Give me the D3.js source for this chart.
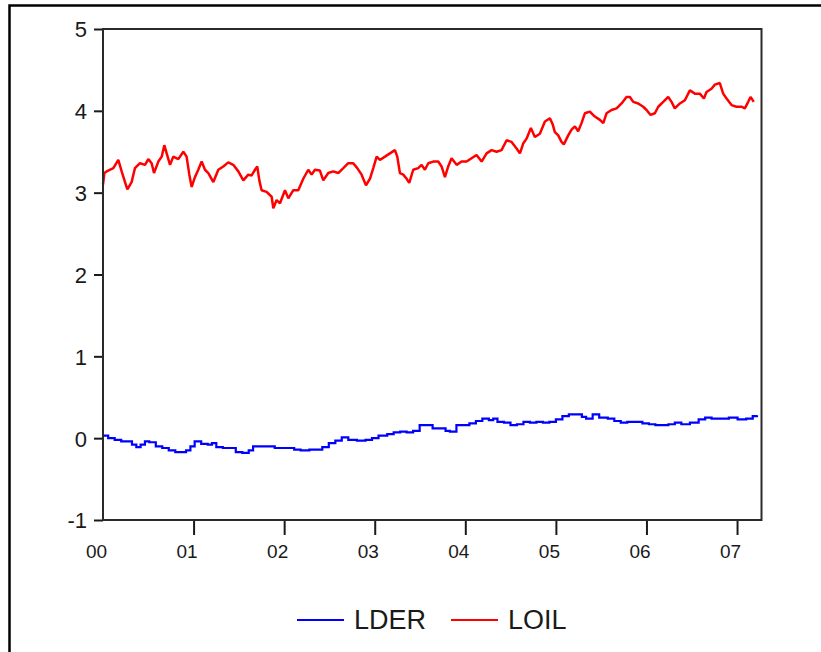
<!DOCTYPE html>
<html>
<head>
<meta charset="utf-8">
<script src="https://cdn.jsdelivr.net/npm/d3@7"></script>
<style>
  body { margin: 0; background: #fff; }
  svg text { font-family: "Liberation Sans", Arial, sans-serif; fill: #1a1a1a; }
</style>
</head>
<body>
<svg width="821" height="652"></svg>
<script>
// time in years since start of 2000
var loilYears = [0.000,0.015,0.040,0.114,0.169,0.206,0.243,0.269,0.316,0.353,0.408,0.464,0.500,0.537,0.563,0.611,0.648,0.677,0.703,0.740,0.776,0.831,0.887,0.923,0.953,0.979,
  1.015,1.052,1.089,1.126,1.163,1.218,1.273,1.328,1.383,1.438,1.494,1.549,1.604,1.641,1.678,1.703,1.726,1.751,1.806,1.862,1.880,1.917,1.954,
  2.009,2.046,2.101,2.156,2.211,2.266,2.303,2.340,2.395,2.432,2.487,2.542,2.597,2.653,2.708,2.763,2.807,2.855,2.903,2.947,2.984,
  3.021,3.057,3.113,3.168,3.223,3.249,3.278,3.315,3.352,3.381,3.425,3.480,3.517,3.554,3.591,3.646,3.701,3.738,3.775,3.811,3.848,3.904,3.959,
  4.014,4.069,4.124,4.180,4.235,4.290,4.345,4.400,4.456,4.511,4.566,4.603,4.639,4.676,4.724,4.768,4.823,4.879,4.934,4.963,4.989,
  5.026,5.062,5.088,5.136,5.173,5.210,5.246,5.283,5.320,5.375,5.430,5.486,5.523,5.559,5.614,5.670,5.725,5.780,5.817,5.854,5.909,5.964,
  6.001,6.045,6.093,6.130,6.185,6.240,6.277,6.313,6.369,6.424,6.479,6.534,6.589,6.634,6.663,6.718,6.755,6.810,6.847,6.884,6.939,6.994,
  7.049,7.086,7.123,7.149,7.185];
var loilValues = [3.10,3.24,3.26,3.30,3.40,3.26,3.13,3.04,3.13,3.30,3.36,3.34,3.41,3.36,3.24,3.38,3.44,3.58,3.48,3.34,3.44,3.41,3.50,3.44,3.22,3.07,
  3.19,3.28,3.38,3.28,3.24,3.13,3.28,3.32,3.37,3.34,3.26,3.15,3.22,3.21,3.28,3.32,3.15,3.03,3.01,2.95,2.81,2.91,2.87,
  3.03,2.93,3.03,3.03,3.17,3.28,3.22,3.28,3.27,3.15,3.24,3.26,3.24,3.30,3.36,3.36,3.30,3.22,3.09,3.17,3.30,
  3.44,3.40,3.44,3.48,3.52,3.44,3.24,3.22,3.17,3.12,3.28,3.30,3.34,3.28,3.36,3.38,3.38,3.32,3.19,3.32,3.42,3.34,3.38,
  3.38,3.42,3.46,3.38,3.48,3.52,3.50,3.52,3.64,3.62,3.54,3.48,3.60,3.66,3.79,3.68,3.72,3.87,3.91,3.84,3.74,
  3.70,3.62,3.59,3.70,3.77,3.81,3.75,3.85,3.97,3.99,3.93,3.89,3.85,3.97,4.01,4.03,4.09,4.17,4.17,4.11,4.09,4.05,
  4.01,3.95,3.97,4.05,4.11,4.17,4.11,4.03,4.09,4.13,4.25,4.21,4.21,4.15,4.23,4.27,4.32,4.34,4.21,4.15,4.07,4.05,
  4.05,4.03,4.11,4.17,4.11];

var lderYears = [0.010,0.057,0.129,0.201,0.272,0.320,0.368,0.415,0.463,0.511,0.583,0.654,0.726,0.798,0.869,0.917,0.965,
  1.012,1.084,1.156,1.203,1.251,1.323,1.394,1.466,1.538,1.609,1.657,1.753,1.824,1.896,1.968,
  2.039,2.111,2.182,2.278,2.350,2.421,2.493,2.565,2.636,2.708,2.803,2.899,2.970,
  3.042,3.138,3.209,3.281,3.352,3.424,3.496,3.567,3.639,3.711,3.782,3.830,3.902,3.973,
  4.045,4.117,4.188,4.260,4.308,4.355,4.427,4.499,4.570,4.642,4.713,4.785,4.857,4.928,
  5.000,5.072,5.143,5.215,5.287,5.334,5.406,5.478,5.573,5.645,5.716,5.788,5.860,5.955,
  6.027,6.098,6.170,6.242,6.313,6.385,6.480,6.576,6.648,6.719,6.815,6.910,
  7.006,7.101,7.173,7.220];
var lderValues = [0.03,0.00,-0.02,-0.04,-0.04,-0.08,-0.11,-0.08,-0.04,-0.05,-0.10,-0.12,-0.15,-0.17,-0.17,-0.15,-0.10,
  -0.04,-0.07,-0.08,-0.06,-0.11,-0.12,-0.12,-0.17,-0.18,-0.15,-0.10,-0.10,-0.10,-0.12,-0.12,
  -0.12,-0.14,-0.15,-0.14,-0.14,-0.11,-0.06,-0.03,0.01,-0.02,-0.03,-0.02,0.00,
  0.03,0.05,0.07,0.08,0.07,0.09,0.16,0.16,0.12,0.12,0.09,0.08,0.16,0.16,
  0.18,0.21,0.24,0.22,0.24,0.20,0.19,0.16,0.17,0.20,0.19,0.20,0.19,0.20,
  0.23,0.27,0.29,0.29,0.26,0.24,0.29,0.25,0.24,0.21,0.19,0.20,0.20,0.18,
  0.17,0.16,0.16,0.17,0.19,0.17,0.19,0.23,0.25,0.24,0.24,0.25,
  0.23,0.24,0.27,0.28];

var yearTicks = [0, 1, 2, 3, 4, 5, 6, 7];
var valueTicks = [-1, 0, 1, 2, 3, 4, 5];
var seriesNames = ["LDER", "LOIL"];
var seriesColors = ["#0000ff", "#ff0000"];

var svg = d3.select("svg");

// outer frame
svg.append("rect")
    .attr("x", 9.5).attr("y", 5.5)
    .attr("width", 900).attr("height", 700)
    .attr("fill", "none")
    .attr("stroke", "#000")
    .attr("stroke-width", 2.5);

var x = d3.scaleLinear().domain([0, 7.27]).range([103, 761.5]);
var y = d3.scaleLinear().domain([-1, 5]).range([520, 29]);

var xAxis = d3.axisBottom(x)
    .tickValues(yearTicks)
    .tickSizeInner(15)
    .tickSizeOuter(0)
    .tickPadding(10)
    .tickFormat(function(d) { return d3.format("02d")(d); });

var yAxis = d3.axisLeft(y)
    .tickValues(valueTicks)
    .tickSizeInner(9)
    .tickSizeOuter(0)
    .tickPadding(7)
    .tickFormat(function(d) { return d < 0 ? "-" + Math.abs(d) : d; });

var gx = svg.append("g")
    .attr("transform", "translate(0,520)")
    .call(xAxis);
gx.select(".domain").remove();
gx.selectAll(".tick line").attr("stroke", "#1a1a1a").attr("stroke-width", 2)
    .filter(function(d) { return d === 0; }).remove();
gx.selectAll(".tick text")
    .attr("fill", "#1a1a1a")
    .attr("dx", -7)
    .style("font-size", "19px");

var gy = svg.append("g")
    .attr("transform", "translate(103,0)")
    .call(yAxis);
gy.select(".domain").remove();
gy.selectAll(".tick line").attr("stroke", "#1a1a1a").attr("stroke-width", 2);
gy.selectAll(".tick text")
    .attr("fill", "#1a1a1a")
    .attr("dy", "0.36em")
    .style("font-size", "22px");

var line = d3.line()
    .x(function(d) { return x(d[0]); })
    .y(function(d) { return y(d[1]); });

// the exchange rate moves in small flat steps
var stepLine = d3.line()
    .curve(d3.curveStepAfter)
    .x(function(d) { return x(d[0]); })
    .y(function(d) { return y(d[1]); });

var lder = d3.zip(lderYears, lderValues);
var loil = d3.zip(loilYears, loilValues);

svg.append("path")
    .datum(lder)
    .attr("fill", "none")
    .attr("stroke", seriesColors[0])
    .attr("stroke-width", 2.2)
    .attr("d", stepLine);

svg.append("path")
    .datum(loil)
    .attr("fill", "none")
    .attr("stroke", seriesColors[1])
    .attr("stroke-width", 2.5)
    .attr("stroke-linejoin", "bevel")
    .attr("d", line);

// plot frame
svg.append("rect")
    .attr("x", x.range()[0]).attr("y", y.range()[1])
    .attr("width", x.range()[1] - x.range()[0])
    .attr("height", y.range()[0] - y.range()[1])
    .attr("fill", "none")
    .attr("stroke", "#2a2a2a")
    .attr("stroke-width", 2);

// legend
var legend = svg.append("g").attr("transform", "translate(297,620)");
var legendOffsets = [0, 154];
seriesNames.forEach(function(name, i) {
    var g = legend.append("g").attr("transform", "translate(" + legendOffsets[i] + ",0)");
    g.append("line")
        .attr("x1", 0).attr("x2", 47)
        .attr("y1", 0).attr("y2", 0)
        .attr("stroke", seriesColors[i])
        .attr("stroke-width", 2);
    g.append("text")
        .attr("x", 57)
        .attr("y", 9)
        .style("font-size", "27px")
        .text(name);
});
</script>
</body>
</html>
